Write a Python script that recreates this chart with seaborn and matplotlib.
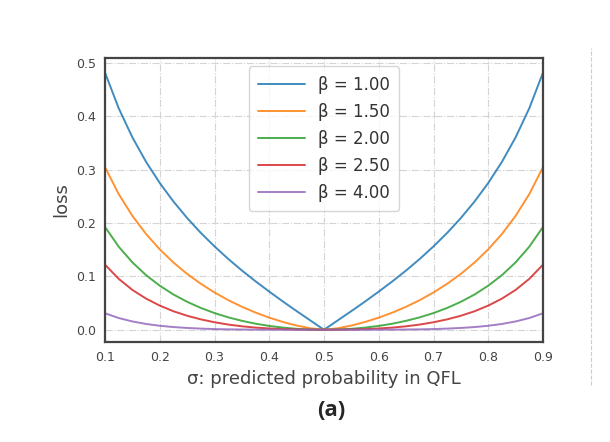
import numpy as np
import pandas as pd
import matplotlib
matplotlib.use('Agg')
import matplotlib.pyplot as plt
import seaborn as sns

# sigma values (x axis)
sigma = [0.1, 0.125, 0.15, 0.175, 0.2, 0.225, 0.25, 0.275, 0.3, 0.325, 0.35, 0.375, 0.4, 0.425, 0.45, 0.475,
         0.5,
         0.525, 0.55, 0.575, 0.6, 0.625, 0.65, 0.675, 0.7, 0.725, 0.75, 0.775, 0.8, 0.825, 0.85, 0.875, 0.9]

# loss values
loss_b100 = [0.4816, 0.4149, 0.3604, 0.3145, 0.2749, 0.2402, 0.2093, 0.1814, 0.1561, 0.1327, 0.1110, 0.0907, 0.0714, 0.0528, 0.0349, 0.0174,
             0.0,
             0.0174, 0.0349, 0.0528, 0.0714, 0.0907, 0.1110, 0.1327, 0.1561, 0.1814, 0.2093, 0.2402, 0.2749, 0.3145, 0.3604, 0.4149, 0.4816]
loss_b150 = [0.3046, 0.2541, 0.2133, 0.1793, 0.1506, 0.1259, 0.1046, 0.0861, 0.0698, 0.0555, 0.0430, 0.0321, 0.0226, 0.0145, 0.0078, 0.0027,
             0.0,
             0.0027, 0.0078, 0.0145, 0.0226, 0.0321, 0.0430, 0.0555, 0.0698, 0.0861, 0.1046, 0.1259, 0.1506, 0.1793, 0.2133, 0.2541, 0.3046]
loss_b200 = [0.1926, 0.1556, 0.1262, 0.1022, 0.0825, 0.0660, 0.0523, 0.0408, 0.0312, 0.0232, 0.0167, 0.0113, 0.0071, 0.0040, 0.0017, 0.0004,
             0.0,
             0.0004, 0.0017, 0.0040, 0.0071, 0.0113, 0.0167, 0.0232, 0.0312, 0.0408, 0.0523, 0.0660, 0.0825, 0.1022, 0.1262, 0.1556, 0.1926]
loss_b250 = [0.1219, 0.0953, 0.0746, 0.0583, 0.0452, 0.0346, 0.0262, 0.0194, 0.0140, 0.0097, 0.0064, 0.0040, 0.0023, 0.0011, 0.0004, 0.0001,
             0.0,
             0.0001, 0.0004, 0.0011, 0.0023, 0.0040, 0.0064, 0.0097, 0.0140, 0.0194, 0.0262, 0.0346, 0.0452, 0.0583, 0.0746, 0.0953, 0.1219]
loss_b400 = [0.0308, 0.0219, 0.0155, 0.0108, 0.0074, 0.0050, 0.0033, 0.0021, 0.0012, 0.0007, 0.0004, 0.0002, 0.0001, 0.0000, 0.0000, 0.0,
             0.0,
             0.0, 0.0000, 0.0000, 0.0001, 0.0002, 0.0004, 0.0007, 0.0012, 0.0021, 0.0033, 0.0050, 0.0074, 0.0108, 0.0155, 0.0219, 0.0308]

beta_labels = ['β = 1.00', 'β = 1.50', 'β = 2.00', 'β = 2.50', 'β = 4.00']
series = [loss_b100, loss_b150, loss_b200, loss_b250, loss_b400]

# long format table
df = pd.DataFrame({
    'sigma': sigma * len(series),
    'loss': sum(series, []),
    'beta': sum([[lab] * len(sigma) for lab in beta_labels], []),
})

sns.set_style('whitegrid', {'grid.linestyle': '-.', 'grid.color': '#d4d4d4',
                            'axes.edgecolor': '#444444'})
plt.rcParams['font.family'] = ['DejaVu Sans']

fig = plt.figure(figsize=(6.1, 4.42), dpi=100)
ax = fig.add_axes([105/610, 1 - 342/442, 438/610, 284/442])

colors = sns.color_palette('tab10', n_colors=5)
sns.lineplot(data=df, x='sigma', y='loss', hue='beta', palette=colors, linewidth=1.4,
             alpha=0.85, ax=ax)

ax.set_xlim(0.1, 0.9)
ax.set_ylim(-0.023, 0.509)
ax.set_xticks(np.arange(0.1, 0.91, 0.1))
ax.set_yticks(np.arange(0.0, 0.51, 0.1))
ax.tick_params(labelsize=9, colors='#444444', pad=3)
for s in ax.spines.values():
    s.set_linewidth(1.6)
    s.set_color('#444444')
ax.grid(True, linewidth=0.8)

ax.set_xlabel('σ: predicted probability in QFL', fontsize=13, color='#444444')
ax.set_ylabel('loss', fontsize=13, color='#444444')

leg = ax.legend(loc='upper center', fontsize=12, frameon=True, handlelength=2.8,
                borderpad=0.55, labelspacing=0.55, bbox_to_anchor=(0.5, 1.0))
leg.get_frame().set_edgecolor('#cccccc')
for t in leg.get_texts():
    t.set_color('#333333')

# caption and dashed divider
fig.text(331/610, 1 - 410/442, '(a)', fontsize=16, fontweight='bold',
         family='Open Sans', ha='center', va='center')
fig.add_artist(plt.Line2D([591/610, 591/610], [1 - 385/442, 1 - 48/442],
                          transform=fig.transFigure, color='#cccccc',
                          linestyle='--', linewidth=0.8))

plt.savefig('out.png', dpi=100)
